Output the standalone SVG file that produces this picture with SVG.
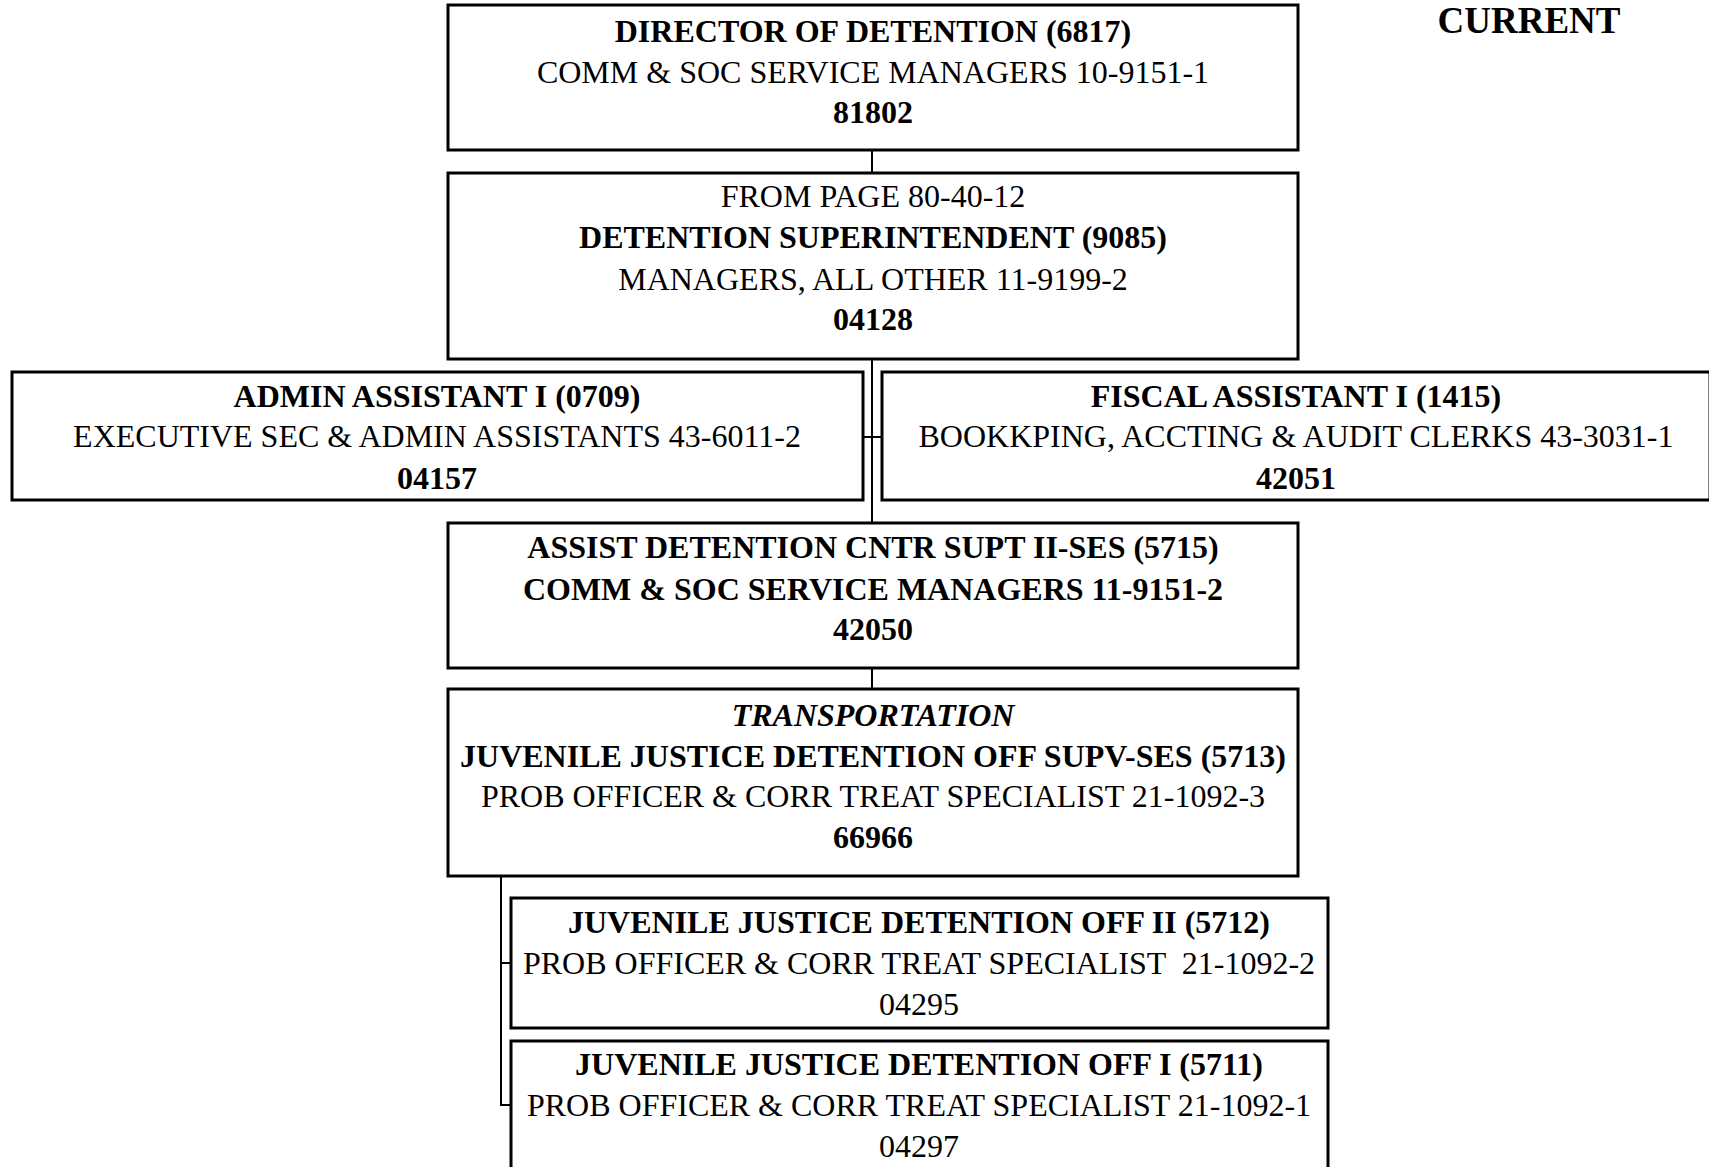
<svg xmlns="http://www.w3.org/2000/svg" width="1709" height="1167" viewBox="0 0 1709 1167">
  <style>
    .box { fill: #ffffff; stroke: #000000; stroke-width: 3; }
    .wire { fill: none; stroke: #000000; stroke-width: 2; }
    text { font-family: "Liberation Serif", "Times New Roman", serif; font-size: 32px; fill: #000000; text-anchor: middle; }
    .b { font-weight: bold; }
    .i { font-style: italic; }
  </style>
  <rect x="0" y="0" width="1709" height="1167" fill="#ffffff"/>

  <text class="b" x="1529" y="33" style="font-size:37px">CURRENT</text>

  <g id="connectors">
    <line class="wire" x1="872" y1="150" x2="872" y2="172"/>
    <line class="wire" x1="872" y1="358" x2="872" y2="523"/>
    <line class="wire" x1="863" y1="437" x2="882" y2="437"/>
    <line class="wire" x1="872" y1="668" x2="872" y2="689"/>
    <line class="wire" x1="501" y1="876" x2="501" y2="1105"/>
    <line class="wire" x1="500" y1="963" x2="511" y2="963"/>
    <line class="wire" x1="500" y1="1105" x2="511" y2="1105"/>
  </g>

  <g id="director">
    <rect class="box" x="448" y="5" width="850" height="145"/>
    <text class="b" x="873" y="42">DIRECTOR OF DETENTION (6817)</text>
    <text x="873" y="83">COMM &amp; SOC SERVICE MANAGERS 10-9151-1</text>
    <text class="b" x="873" y="123">81802</text>
  </g>

  <g id="superintendent">
    <rect class="box" x="448" y="173" width="850" height="186"/>
    <text x="873" y="207">FROM PAGE 80-40-12</text>
    <text class="b" x="873" y="248">DETENTION SUPERINTENDENT (9085)</text>
    <text x="873" y="290">MANAGERS, ALL OTHER 11-9199-2</text>
    <text class="b" x="873" y="330">04128</text>
  </g>

  <g id="admin-assistant">
    <rect class="box" x="12" y="372" width="851" height="128"/>
    <text class="b" x="437" y="407">ADMIN ASSISTANT I (0709)</text>
    <text x="437" y="447">EXECUTIVE SEC &amp; ADMIN ASSISTANTS 43-6011-2</text>
    <text class="b" x="437" y="489">04157</text>
  </g>

  <g id="fiscal-assistant">
    <rect class="box" x="882" y="372" width="828" height="128"/>
    <text class="b" x="1296" y="407">FISCAL ASSISTANT I (1415)</text>
    <text x="1296" y="447">BOOKKPING, ACCTING &amp; AUDIT CLERKS 43-3031-1</text>
    <text class="b" x="1296" y="489">42051</text>
  </g>

  <g id="assist-superintendent">
    <rect class="box" x="448" y="523" width="850" height="145"/>
    <text class="b" x="873" y="558">ASSIST DETENTION CNTR SUPT II-SES (5715)</text>
    <text class="b" x="873" y="600">COMM &amp; SOC SERVICE MANAGERS 11-9151-2</text>
    <text class="b" x="873" y="640">42050</text>
  </g>

  <g id="transportation-supervisor">
    <rect class="box" x="448" y="689" width="850" height="187"/>
    <text class="b i" x="873" y="726">TRANSPORTATION</text>
    <text class="b" x="873" y="767">JUVENILE JUSTICE DETENTION OFF SUPV-SES (5713)</text>
    <text x="873" y="807">PROB OFFICER &amp; CORR TREAT SPECIALIST 21-1092-3</text>
    <text class="b" x="873" y="848">66966</text>
  </g>

  <g id="detention-officer-ii">
    <rect class="box" x="511" y="898" width="817" height="130"/>
    <text class="b" x="919" y="933">JUVENILE JUSTICE DETENTION OFF II (5712)</text>
    <text x="919" y="974" xml:space="preserve">PROB OFFICER &amp; CORR TREAT SPECIALIST  21-1092-2</text>
    <text x="919" y="1015">04295</text>
  </g>

  <g id="detention-officer-i">
    <rect class="box" x="511" y="1041" width="817" height="140"/>
    <text class="b" x="919" y="1075">JUVENILE JUSTICE DETENTION OFF I (5711)</text>
    <text x="919" y="1116">PROB OFFICER &amp; CORR TREAT SPECIALIST 21-1092-1</text>
    <text x="919" y="1157">04297</text>
  </g>
</svg>
